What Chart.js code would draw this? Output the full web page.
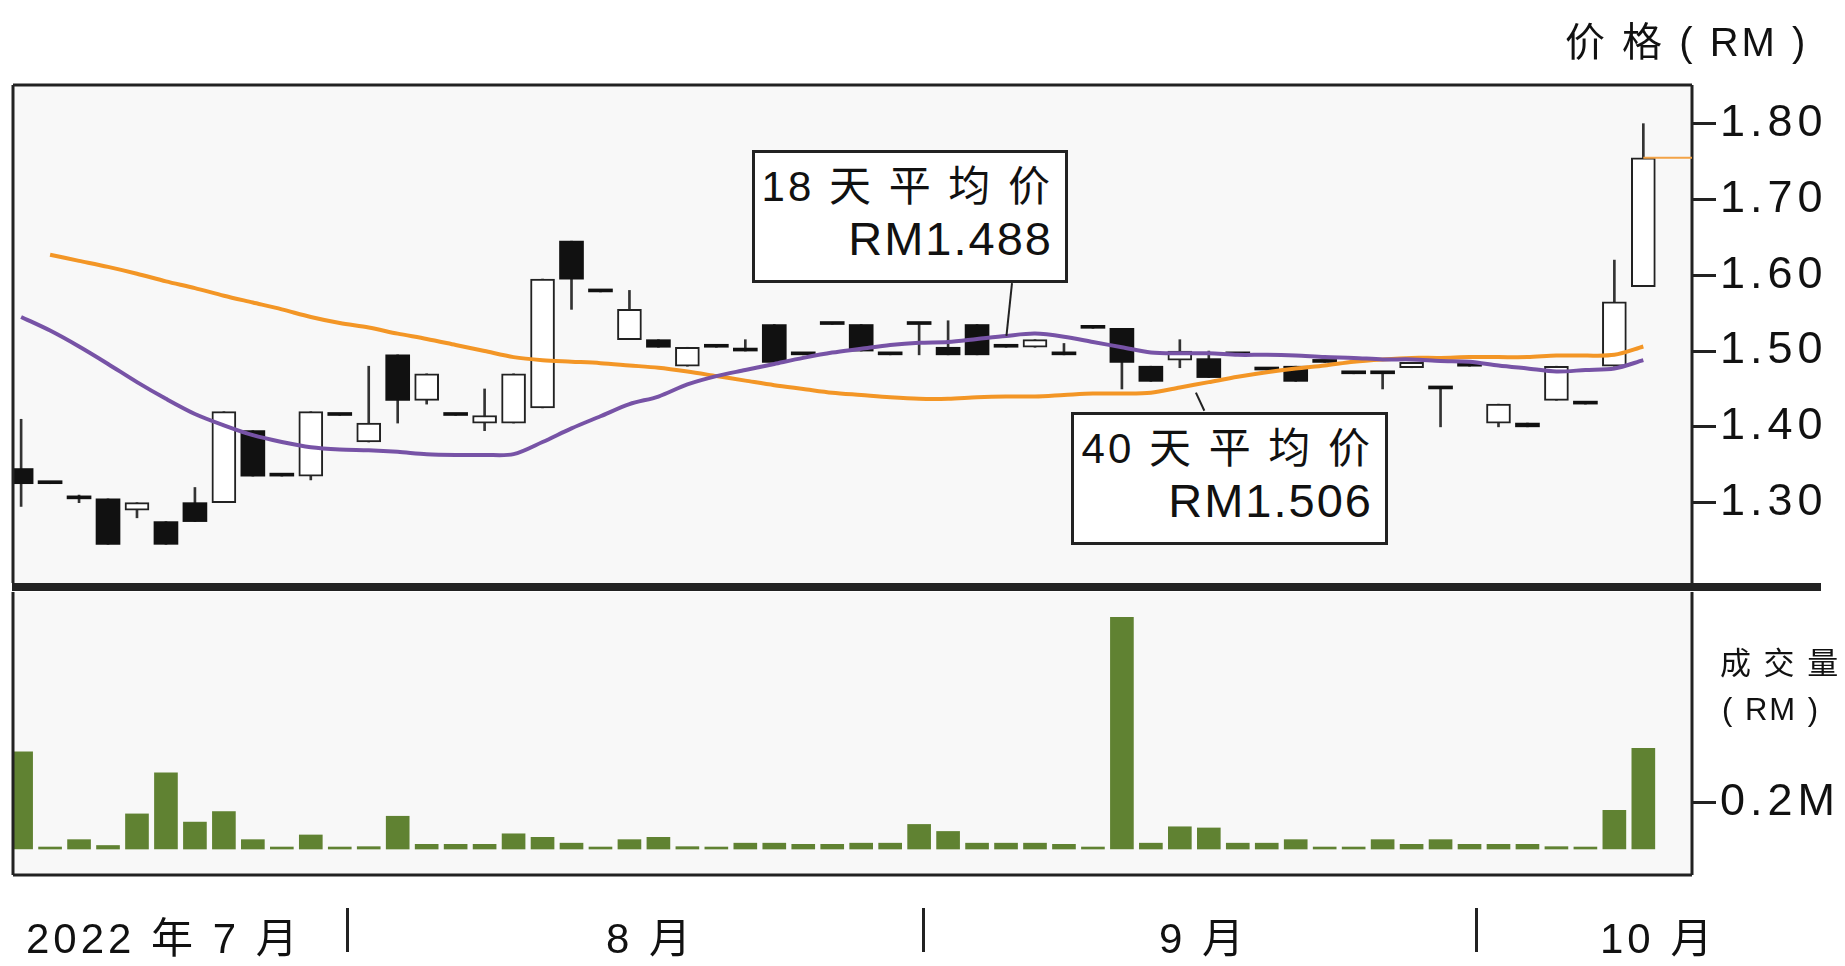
<!DOCTYPE html>
<html>
<head>
<meta charset="utf-8">
<script src="https://cdn.jsdelivr.net/npm/chart.js@4"></script>
<style>
  body { margin: 0; background: #fff; width: 1845px; height: 966px; overflow: hidden; position: relative;
         font-family: "Liberation Sans", "Noto Sans CJK SC", sans-serif; color: #111; }
  canvas { position: absolute; left: 0; top: 0; }
  .t { position: absolute; white-space: nowrap; }
  .box { position: absolute; border: 3px solid #222; background: #fff; text-align: right;
         font-size: 42px; line-height: 52px; padding: 8px 12px 0 0; box-sizing: border-box; letter-spacing: 3px; }
  .box b { font-weight: normal; font-size: 47px; letter-spacing: 2px; }
  .sep { position: absolute; width: 3px; height: 44px; background: #222; top: 908px; }
  .lead { position: absolute; background: #222; width: 2px; transform-origin: 0 0; }
</style>
</head>
<body>
<canvas id="price" width="1845" height="966"></canvas>
<canvas id="vol" width="1845" height="966"></canvas>

<div class="t" style="left:1565px;top:10px;font-size:40px;letter-spacing:3px;">价 格 ( RM )</div>
<div class="t" style="left:1720px;top:638px;font-size:31px;letter-spacing:2px;">成 交 量</div>
<div class="t" style="left:1722px;top:692px;font-size:31px;letter-spacing:2px;">( RM )</div>

<div class="box" style="left:752px;top:150px;width:316px;height:133px;">18 天 平 均 价<br><b>RM1.488</b></div>
<div class="box" style="left:1071px;top:412px;width:317px;height:133px;">40 天 平 均 价<br><b>RM1.506</b></div>
<div class="lead" style="left:1011px;top:283px;height:53px;transform:rotate(6deg);"></div>
<div class="lead" style="left:1195px;top:393px;height:20px;transform:rotate(-25deg);"></div>

<div class="t" style="left:26px;top:904px;font-size:42px;letter-spacing:4px;">2022 年 7 月</div>
<div class="sep" style="left:346px;"></div>
<div class="t" style="left:606px;top:904px;font-size:42px;letter-spacing:4px;">8 月</div>
<div class="sep" style="left:922px;"></div>
<div class="t" style="left:1159px;top:904px;font-size:42px;letter-spacing:4px;">9 月</div>
<div class="sep" style="left:1475px;"></div>
<div class="t" style="left:1600px;top:904px;font-size:42px;letter-spacing:4px;">10 月</div>

<script>
// 日K数据（57个交易日）
const opens  = [1.345,1.325,1.305,1.305,1.29,1.275,1.30,1.30,1.395,1.335,1.335,1.415,1.38,1.495,1.435,1.415,1.405,1.405,1.425,1.645,
                1.578,1.515,1.515,1.48,1.505,1.50,1.535,1.495,1.535,1.535,1.495,1.535,1.505,1.535,1.505,1.505,1.495,1.53,1.53,1.48,
                1.488,1.49,1.495,1.475,1.48,1.485,1.47,1.47,1.478,1.45,1.48,1.405,1.405,1.435,1.43,1.48,1.585];
const closes = [1.325,1.325,1.305,1.245,1.30,1.245,1.275,1.42,1.335,1.335,1.42,1.415,1.405,1.435,1.47,1.415,1.415,1.47,1.595,1.595,
                1.578,1.555,1.505,1.505,1.505,1.50,1.485,1.495,1.535,1.50,1.495,1.535,1.495,1.495,1.505,1.515,1.495,1.53,1.485,1.46,
                1.50,1.465,1.495,1.475,1.46,1.485,1.47,1.47,1.485,1.45,1.48,1.43,1.40,1.48,1.43,1.565,1.755];
const highs  = [1.41,1.325,1.31,1.305,1.30,1.275,1.32,1.42,1.395,1.335,1.42,1.415,1.48,1.495,1.47,1.415,1.45,1.47,1.595,1.645,
                1.578,1.58,1.515,1.505,1.505,1.515,1.535,1.495,1.535,1.535,1.495,1.535,1.54,1.535,1.505,1.515,1.51,1.53,1.53,1.48,
                1.515,1.50,1.495,1.475,1.48,1.485,1.47,1.47,1.485,1.45,1.48,1.43,1.405,1.48,1.43,1.62,1.80];
const lows   = [1.295,1.325,1.30,1.245,1.28,1.245,1.275,1.30,1.335,1.335,1.33,1.415,1.38,1.405,1.43,1.415,1.395,1.405,1.425,1.555,
                1.578,1.515,1.505,1.48,1.505,1.50,1.485,1.495,1.535,1.50,1.495,1.495,1.495,1.495,1.505,1.505,1.495,1.53,1.45,1.46,
                1.478,1.465,1.495,1.475,1.46,1.485,1.47,1.45,1.478,1.40,1.48,1.40,1.40,1.435,1.43,1.48,1.585];
const ma18 = [1.545,1.527,1.506,1.483,1.459,1.437,1.417,1.402,1.389,1.380,1.373,1.370,1.369,1.367,1.364,1.363,1.363,1.364,1.380,1.398,
              1.414,1.430,1.440,1.456,1.467,1.475,1.483,1.491,1.498,1.503,1.508,1.511,1.512,1.516,1.520,1.523,1.519,1.512,1.505,1.498,
              1.497,1.497,1.495,1.495,1.494,1.492,1.491,1.489,1.489,1.487,1.486,1.481,1.477,1.473,1.475,1.477,1.488];
const ma40 = [null,1.627,1.619,1.611,1.602,1.592,1.583,1.573,1.564,1.555,1.545,1.537,1.531,1.523,1.516,1.508,1.500,1.492,1.488,1.486,
              1.484,1.481,1.478,1.473,1.467,1.461,1.455,1.450,1.445,1.442,1.439,1.437,1.437,1.439,1.440,1.440,1.442,1.444,1.444,1.445,
              1.452,1.459,1.466,1.472,1.477,1.481,1.486,1.489,1.491,1.491,1.492,1.492,1.492,1.494,1.494,1.495,1.506];
// 成交量（百万令吉）
const volumes = [0.415,0.005,0.04,0.015,0.15,0.325,0.115,0.16,0.04,0.003,0.06,0.005,0.01,0.14,0.02,0.02,0.02,0.065,0.05,0.025,
                 0.005,0.04,0.05,0.01,0.005,0.025,0.025,0.02,0.02,0.025,0.025,0.105,0.075,0.025,0.025,0.025,0.02,0.005,0.99,0.025,
                 0.095,0.09,0.025,0.025,0.04,0.005,0.005,0.04,0.02,0.04,0.02,0.02,0.02,0.01,0.005,0.165,0.43];
const priceTicks = [1.30, 1.40, 1.50, 1.60, 1.70, 1.80];
const volTicks = [0.2];

const X_MIN = -0.28, X_MAX = 57.68;
const idx = opens.map((_, i) => i);

// 外框和背景
const framePlugin = {
  id: 'frame',
  beforeDraw(chart) {
    const a = chart.chartArea, c = chart.ctx;
    c.save();
    c.fillStyle = '#f8f8f8';
    c.fillRect(a.left, a.top, a.right - a.left, a.bottom - a.top);
    c.restore();
    c.letterSpacing = '5px';
  },
  afterDraw(chart) {
    const a = chart.chartArea, c = chart.ctx;
    c.save();
    c.strokeStyle = '#222';
    c.lineWidth = 3;
    c.beginPath();
    c.moveTo(a.left, a.top); c.lineTo(a.left, a.bottom);
    c.moveTo(a.right, a.top); c.lineTo(a.right, a.bottom);
    if (chart.canvas.id === 'price') {
      c.moveTo(a.left, a.top); c.lineTo(a.right, a.top);
      c.stroke();
      // 最新收盘价细线
      const last = closes.length - 1;
      const y = chart.scales.y.getPixelForValue(closes[last]);
      c.strokeStyle = '#f3a347'; c.lineWidth = 2;
      c.beginPath();
      c.moveTo(chart.scales.x.getPixelForValue(last), y); c.lineTo(a.right, y);
      c.stroke();
      // 分隔粗线
      c.fillStyle = '#222';
      c.fillRect(a.left - 1, a.bottom, 1822 - a.left, 8);
    } else {
      c.moveTo(a.left, a.bottom); c.lineTo(a.right, a.bottom);
      c.stroke();
    }
    c.restore();
  }
};

function rightAxis(min, max, ticks, fmt) {
  return {
    position: 'right', min, max,
    afterBuildTicks: s => { s.ticks = ticks.map(v => ({ value: v })); },
    afterFit: s => { s.width = 153; },
    grid: { drawOnChartArea: false, drawTicks: true, tickLength: 24, tickWidth: 3, tickColor: '#222', color: '#222' },
    border: { display: false },
    ticks: { color: '#111', font: { size: 45, family: 'Liberation Sans' }, padding: 4, callback: fmt }
  };
}
const xAxis = { type: 'linear', min: X_MIN, max: X_MAX, offset: false, bounds: 'ticks', display: false,
                afterDataLimits: s => { s.min = X_MIN; s.max = X_MAX; } };

new Chart(document.getElementById('price'), {
  type: 'bar',
  data: {
    datasets: [
      { type: 'line', data: idx.map(i => ({ x: i, y: ma18[i] })), borderColor: '#7753a6', borderWidth: 4,
        pointRadius: 0, tension: 0.3, order: 0 },
      { type: 'line', data: idx.map(i => ({ x: i, y: ma40[i] })), borderColor: '#f39626', borderWidth: 4,
        pointRadius: 0, tension: 0.3, order: 0 },
      { data: idx.map(i => ({ x: i, y: [opens[i], closes[i]] })), grouped: false, barThickness: 24, minBarLength: 3,
        backgroundColor: idx.map(i => closes[i] > opens[i] ? '#ffffff' : '#111'),
        borderColor: '#222', borderWidth: idx.map(i => closes[i] > opens[i] ? 2 : 0), borderSkipped: false, order: 1 },
      { data: idx.map(i => ({ x: i, y: [lows[i], highs[i]] })), grouped: false, barThickness: 2,
        backgroundColor: '#333', order: 2 }
    ]
  },
  options: {
    responsive: false, devicePixelRatio: 1, animation: false,
    layout: { padding: { top: 85, bottom: 383, left: 13, right: 0 } },
    plugins: { legend: { display: false }, tooltip: { enabled: false } },
    scales: { x: xAxis, y: rightAxis(1.194, 1.851, priceTicks, v => v.toFixed(2)) }
  },
  plugins: [framePlugin]
});

new Chart(document.getElementById('vol'), {
  type: 'bar',
  data: {
    datasets: [
      { data: idx.map(i => ({ x: i, y: volumes[i] })), grouped: false, barThickness: 23, minBarLength: 2,
        backgroundColor: '#608232' }
    ]
  },
  options: {
    responsive: false, devicePixelRatio: 1, animation: false,
    layout: { padding: { top: 592, bottom: 91, left: 13, right: 0 } },
    plugins: { legend: { display: false }, tooltip: { enabled: false } },
    scales: { x: xAxis, y: rightAxis(-0.111, 1.098, volTicks, v => v + 'M') }
  },
  plugins: [framePlugin]
});
</script>
</body>
</html>
